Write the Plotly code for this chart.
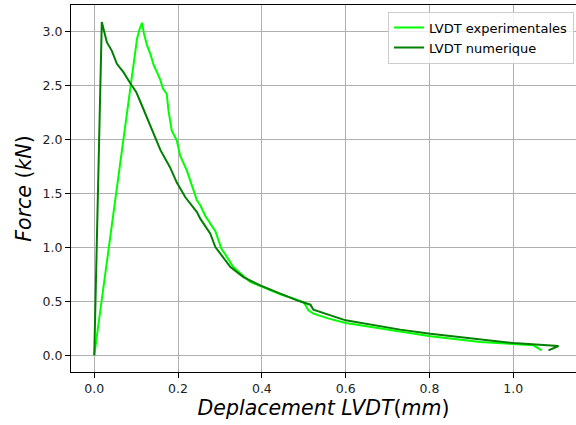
import plotly.graph_objects as go

# Experimental LVDT curve (light green)
exp_x = [0.0, 0.050, 0.084, 0.094, 0.102, 0.108, 0.114, 0.118, 0.126, 0.134, 0.142,
         0.150, 0.158, 0.164, 0.173, 0.177, 0.185, 0.197, 0.205, 0.221, 0.237, 0.245,
         0.253, 0.265, 0.277, 0.289, 0.297, 0.303, 0.310, 0.332, 0.372, 0.412, 0.444,
         0.476, 0.500, 0.504, 0.511, 0.523, 0.560, 0.600, 0.683, 0.730, 0.802, 0.921,
         1.000, 1.048, 1.068]
exp_y = [0.0, 1.43, 2.45, 2.73, 2.93, 3.02, 3.08, 2.99, 2.87, 2.79, 2.685,
         2.62, 2.546, 2.47, 2.42, 2.27, 2.08, 1.99, 1.85, 1.71, 1.53, 1.435,
         1.39, 1.29, 1.22, 1.15, 1.06, 0.99, 0.95, 0.818, 0.68, 0.617, 0.565,
         0.525, 0.49, 0.463, 0.417, 0.386, 0.34, 0.30, 0.247, 0.216, 0.176, 0.123,
         0.102, 0.093, 0.046]

# Numerical LVDT curve (dark green)
num_x = [0.0, 0.018, 0.030, 0.042, 0.054, 0.070, 0.086, 0.100, 0.112, 0.134,
         0.158, 0.181, 0.197, 0.217, 0.245, 0.253, 0.277, 0.289, 0.301, 0.325, 0.356,
         0.396, 0.444, 0.490, 0.516, 0.523, 0.600, 0.683, 0.730, 0.802, 0.921, 1.000,
         1.108, 1.084]
num_y = [0.0, 3.086, 2.90, 2.82, 2.70, 2.62, 2.52, 2.44, 2.33, 2.12,
         1.90, 1.74, 1.60, 1.466, 1.327, 1.266, 1.127, 1.003, 0.94, 0.818, 0.725,
         0.648, 0.571, 0.50, 0.469, 0.423, 0.324, 0.269, 0.238, 0.20, 0.145, 0.114,
         0.086, 0.046]

x_ticks = [0.0, 0.2, 0.4, 0.6, 0.8, 1.0]
y_ticks = [0.0, 0.5, 1.0, 1.5, 2.0, 2.5, 3.0]

FONT = "DejaVu Sans"

fig = go.Figure()
fig.add_trace(go.Scatter(x=exp_x, y=exp_y, mode="lines", name="LVDT experimentales",
                         line=dict(color="#00ff00", width=2)))
fig.add_trace(go.Scatter(x=num_x, y=num_y, mode="lines", name="LVDT numerique",
                         line=dict(color="#008000", width=2)))

axis_common = dict(
    showgrid=True, gridcolor="#b0b0b0", gridwidth=1,
    showline=True, linecolor="black", linewidth=1,
    ticks="outside", ticklen=5, tickwidth=1, tickcolor="black",
    tickfont=dict(family=FONT, size=12.5, color="#222222"),
    zeroline=False,
)

fig.update_layout(
    width=576, height=425,
    margin=dict(l=71, r=0, t=5, b=53),
    plot_bgcolor="white", paper_bgcolor="white",
    font=dict(family=FONT, color="black"),
    xaxis=dict(axis_common, range=[-0.0555, 1.1497], tickvals=x_ticks,
               ticktext=[f"{v:.1f}" for v in x_ticks], mirror=True,
               title=dict(text="<i>Deplacement LVDT</i>(<i>mm</i>)",
                          font=dict(family=FONT, size=20.5), standoff=5)),
    yaxis=dict(axis_common, range=[-0.1545, 3.2445], tickvals=y_ticks,
               ticktext=[f"{v:.1f}" for v in y_ticks], mirror=False,
               title=dict(text="<i>Force</i> (<i>kN</i>)",
                          font=dict(family=FONT, size=20.5), standoff=5)),
    legend=dict(x=0.996, y=0.982, xanchor="right", yanchor="top",
                bgcolor="rgba(255,255,255,0.8)", bordercolor="#cccccc", borderwidth=1,
                font=dict(family=FONT, size=13, color="black")),
    showlegend=True,
)

fig.write_html("out.html")
